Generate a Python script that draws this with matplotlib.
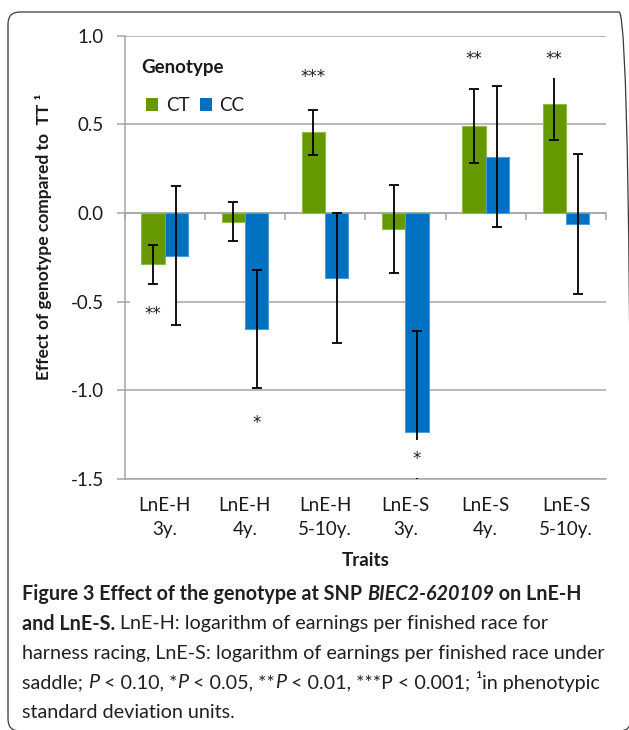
import matplotlib
matplotlib.use("Agg")
import matplotlib.pyplot as plt
from matplotlib.patches import FancyBboxPatch, Patch
from matplotlib.path import Path
from matplotlib.transforms import IdentityTransform
import numpy as np

plt.rcParams['font.family'] = ['Lato', 'DejaVu Sans']

# ---------------- data ----------------
traits = ["LnE-H\n3y.", "LnE-H\n4y.", "LnE-H\n5-10y.",
          "LnE-S\n3y.", "LnE-S\n4y.", "LnE-S\n5-10y."]
genotypes = ["CT", "CC"]
ct_effect = [-0.29, -0.05, 0.455, -0.09, 0.49, 0.613]
ct_err = [0.11, 0.11, 0.128, 0.25, 0.208, 0.20]
cc_effect = [-0.24, -0.654, -0.365, -1.235, 0.318, -0.062]
cc_err = [0.39, 0.33, 0.366, 0.57, 0.397, 0.394]
# significance marks
sig_trait = [0, 1, 2, 3, 4, 5]
sig_geno = ["CT", "CC", "CT", "CC", "CT", "CT"]
sig_label = ["**", "*", "***", "*", "**", "**"]
sig_y = [-0.569, -1.186, 0.766, -1.386, 0.866, 0.866]
yticks = [-1.5, -1.0, -0.5, 0.0, 0.5, 1.0]
ylim = (-1.5, 1.0)

GREEN = "#669900"
BLUE = "#0070C0"
GRID = "#A6A6A6"
TXT = "#1a1a1a"

W, H = 629, 730
fig = plt.figure(figsize=(W / 100, H / 100), dpi=100)

# frame around figure
frame = FancyBboxPatch((8, -1), 623, 719, boxstyle="round,pad=0,rounding_size=12",
                       transform=IdentityTransform(), fc="none", ec="#3a3a3a",
                       lw=0.9, figure=fig)
fig.patches.append(frame)

ax = fig.add_axes([124.5 / W, 1 - 479 / H, (606 - 124.5) / W, (479 - 35.7) / H])

x = np.arange(len(traits))
w = 0.29
ax.bar(x - w / 2, ct_effect, w, color=GREEN, edgecolor="#8dbb47", lw=0.8, zorder=2)
ax.errorbar(x - w / 2, ct_effect, yerr=ct_err, fmt="none", ecolor="black",
            elinewidth=1.3, capsize=3.6, capthick=1.3, zorder=3)
ax.bar(x + w / 2, cc_effect, w, color=BLUE, edgecolor="#4d9bd8", lw=0.8, zorder=5)
ax.errorbar(x + w / 2, cc_effect, yerr=cc_err, fmt="none", ecolor="black",
            elinewidth=1.3, capsize=3.6, capthick=1.3, zorder=6)


def wide_box(x0, y0, width, height, mutation_size):
    px = 0.9 * mutation_size
    py = 0.6 * mutation_size
    return Path([(x0 - px, y0 - py), (x0 + width + px, y0 - py),
                 (x0 + width + px, y0 + height + py), (x0 - px, y0 + height + py),
                 (x0 - px, y0 - py)], closed=True)


for ti, g, lab, yy in zip(sig_trait, sig_geno, sig_label, sig_y):
    xx = ti - w / 2 if g == "CT" else ti + w / 2
    ax.text(xx, yy, lab, ha="center", va="center", fontsize=12,
            family="DejaVu Sans", color=TXT,
            bbox=dict(boxstyle=wide_box, fc="white", ec="none"),
            zorder=4 if g == "CT" else 7)

ax.set_xlim(-0.5, len(traits) - 0.5)
ax.set_ylim(*ylim)
ax.set_yticks(yticks)
ax.set_yticklabels([f"{v:.1f}" for v in yticks])
ax.set_xticks(x)
ax.set_xticklabels(traits, linespacing=1.5)
ax.tick_params(axis="x", length=0, pad=13, labelsize=13.5, labelcolor=TXT)
ax.tick_params(axis="y", length=5.8, width=1.1, color=GRID, pad=9,
               labelsize=13.5, labelcolor=TXT)
ax.grid(axis="y", color=GRID, lw=1.1, zorder=0)
ax.set_axisbelow(True)
for s in ["top", "right"]:
    ax.spines[s].set_visible(False)
for s in ["left", "bottom"]:
    ax.spines[s].set_color(GRID)
    ax.spines[s].set_linewidth(1.1)

# zero axis line with category boundary ticks
zero_pos = (0 - ylim[0]) / (ylim[1] - ylim[0])
sec = ax.secondary_xaxis(zero_pos)
sec.set_alignment("bottom")
sec.set_xticks(np.arange(-0.5, len(traits), 1.0))
sec.set_xticklabels([])
sec.tick_params(axis="x", length=5.2, width=1.1, color=GRID, direction="out")
for s in sec.spines.values():
    s.set_color(GRID)
    s.set_linewidth(1.1)

# legend
ax.text(0.0357, 0.915, "Genotype", transform=ax.transAxes, fontsize=13.5,
        fontweight="bold", va="baseline", ha="left", color=TXT)
handles = [Patch(facecolor=GREEN, edgecolor="none"), Patch(facecolor=BLUE, edgecolor="none")]
ax.legend(handles, genotypes, loc="upper left", bbox_to_anchor=(0.045, 0.862),
          ncol=2, frameon=False, fontsize=13.5, handlelength=0.65, handleheight=0.65,
          handletextpad=0.4, columnspacing=0.55, borderpad=0, borderaxespad=0,
          labelcolor=TXT)

ax.set_xlabel("Traits", fontsize=13.5, fontweight="bold", color=TXT, labelpad=10)
fig.text(44, H - 237, "Effect of genotype compared to  TT ¹", rotation=90,
         transform=IdentityTransform(), ha="center", va="center",
         fontsize=12.5, fontweight="bold", color=TXT)

# caption
fig.canvas.draw()
renderer = fig.canvas.get_renderer()


def props(style, size):
    return dict(fontsize=size,
                fontweight="bold" if "b" in style else "normal",
                fontstyle="italic" if "i" in style else "normal")


def width_of(text, style, size):
    p1 = fig.text(0, 0, text + "|", transform=IdentityTransform(), **props(style, size))
    p2 = fig.text(0, 0, "|", transform=IdentityTransform(), **props(style, size))
    wd = p1.get_window_extent(renderer).width - p2.get_window_extent(renderer).width
    p1.remove()
    p2.remove()
    return wd


caption = [
    [("Figure 3 Effect of the genotype at SNP ", "b"), ("BIEC2-620109", "bi"), (" on LnE-H", "b")],
    [("and LnE-S.", "b"), (" LnE-H: logarithm of earnings per finished race for", "")],
    [("harness racing, LnE-S: logarithm of earnings per finished race under", "")],
    [("saddle; ", ""), ("P", "i"), (" < 0.10, *", ""), ("P", "i"), (" < 0.05, **", ""),
     ("P", "i"), (" < 0.01, ***P < 0.001; ", ""), ("¹", ""), ("in phenotypic", "")],
    [("standard deviation units.", "")],
]
ref_w = width_of(caption[2][0][0], "", 12)
cap_size = 12 * 580 / ref_w
baselines = [600, 629.5, 659, 688.5, 718]
for runs, yb in zip(caption, baselines):
    xc = 22
    for text, style in runs:
        fig.text(xc, H - yb, text, transform=IdentityTransform(), ha="left",
                 va="baseline", color="#231F20", **props(style, cap_size))
        xc += width_of(text, style, cap_size)

fig.savefig("out.png", dpi=100)
